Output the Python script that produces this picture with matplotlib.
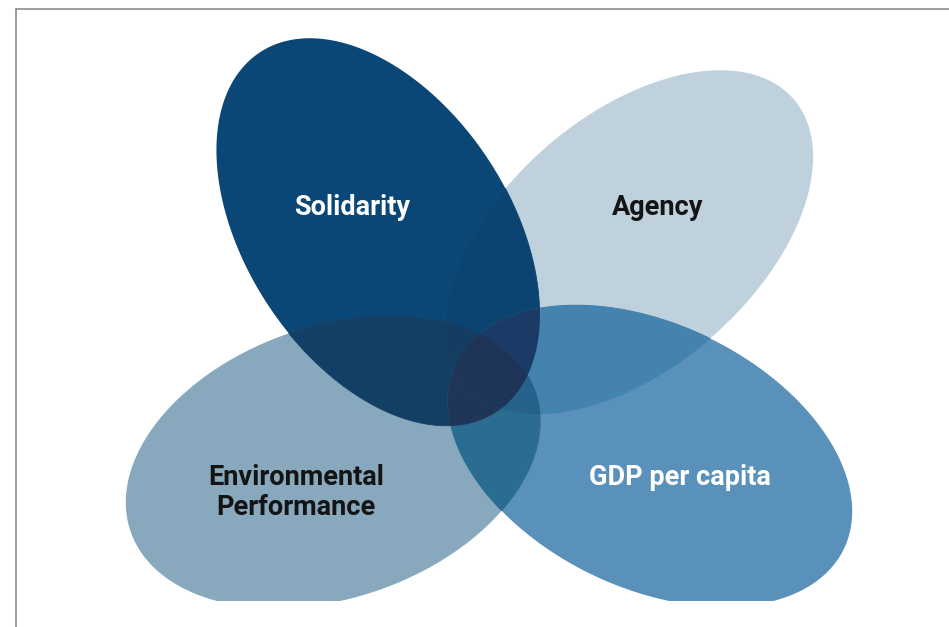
"""Four overlapping ellipses: Solidarity / Agency / Environmental Performance / GDP per capita."""

from itertools import combinations

import matplotlib.pyplot as plt
from matplotlib.colors import to_rgb, to_hex
from matplotlib.patches import Polygon
import numpy as np

# Ellipse geometry (pixel units, y grows downward)
names = ["Solidarity", "Agency", "Environmental\nPerformance", "GDP per capita"]
keys = ["S", "A", "E", "G"]
center_x = [378, 629, 333, 650]
center_y = [232, 242, 462, 456]
semi_major = [215, 218, 214, 215]
semi_minor = [132, 126, 136, 132]
angle_deg = [56.7, -41.0, -18.9, 25.5]

# Label layout
label_x = [352, 658, 296, 680]
label_baseline = [215, 215, 485, 485]
label_color = ["white", "#141414", "#141414", "white"]
LINE_STEP = 30

# Fill colour of every visible region (keys = ellipses covering it).
# A∩E lies almost entirely inside Solidarity, so it takes that overlap colour.
REGION_COLORS = {
    "S": "#0a4676", "A": "#bfd1dd", "E": "#87a8bd", "G": "#5991ba",
    "SA": "#0b4470", "SE": "#143f65", "SG": "#1b3e6b",
    "AG": "#4383ae", "EG": "#2b6d90", "AE": "#143d62",
    "SAG": "#1b3a65", "SEG": "#1f3659", "SAE": "#143d62", "AEG": "#26628a",
    "SAEG": "#1f3459",
}

W, H = 949, 627
CLIP_BOTTOM = 601


def ellipse_poly(cx, cy, a, b, ang, n=300):
    t = np.linspace(0, 2 * np.pi, n, endpoint=False)
    th = np.radians(ang)
    x = cx + a * np.cos(t) * np.cos(th) - b * np.sin(t) * np.sin(th)
    y = cy + a * np.cos(t) * np.sin(th) + b * np.sin(t) * np.cos(th)
    return list(zip(x, y))


def clip_poly(subject, clipper):
    """Sutherland-Hodgman, both polygons convex and counter-clockwise."""
    def inside(p, a, b):
        return (b[0] - a[0]) * (p[1] - a[1]) - (b[1] - a[1]) * (p[0] - a[0]) >= 0

    def cross_pt(s, e, a, b):
        dx1, dy1 = e[0] - s[0], e[1] - s[1]
        dx2, dy2 = b[0] - a[0], b[1] - a[1]
        den = dx1 * dy2 - dy1 * dx2
        u = ((a[0] - s[0]) * dy2 - (a[1] - s[1]) * dx2) / den
        return (s[0] + u * dx1, s[1] + u * dy1)

    out = subject
    for i in range(len(clipper)):
        a, b = clipper[i], clipper[(i + 1) % len(clipper)]
        inp, out = out, []
        if not inp:
            break
        s = inp[-1]
        for e in inp:
            if inside(e, a, b):
                if not inside(s, a, b):
                    out.append(cross_pt(s, e, a, b))
                out.append(e)
            elif inside(s, a, b):
                out.append(cross_pt(s, e, a, b))
            s = e
    return out


def region_color(combo):
    key = "".join(keys[i] for i in combo)
    if key in REGION_COLORS:
        return REGION_COLORS[key]
    rgb = np.ones(3)
    for i in combo:
        rgb *= np.array(to_rgb(REGION_COLORS[keys[i]]))
    return to_hex(rgb)


fig = plt.figure(figsize=(W / 100, H / 100), dpi=100)
ax = fig.add_axes([0, 0, 1, 1])
ax.set_xlim(0, W)
ax.set_ylim(H, 0)
ax.axis("off")

frame = [(0, -50), (W, -50), (W, CLIP_BOTTOM), (0, CLIP_BOTTOM)]
polys = [
    clip_poly(ellipse_poly(center_x[i], center_y[i], semi_major[i], semi_minor[i], angle_deg[i]), frame)
    for i in range(len(names))
]

# paint single ellipses first, then ever smaller intersections on top
for k in range(1, len(names) + 1):
    for combo in combinations(range(len(names)), k):
        poly = polys[combo[0]]
        for j in combo[1:]:
            poly = clip_poly(poly, polys[j])
            if len(poly) < 3:
                break
        if len(poly) < 3:
            continue
        col = region_color(combo)
        # a hairline edge in the fill colour hides antialiasing seams
        ax.add_patch(Polygon(poly, closed=True, facecolor=col, edgecolor=col,
                             linewidth=0.6 if k > 1 else 0.0, zorder=k))

for i, name in enumerate(names):
    for n, line in enumerate(name.split("\n")):
        ax.text(label_x[i], label_baseline[i] + n * LINE_STEP, line,
                ha="center", va="baseline", fontsize=19.5, fontweight="bold",
                family=["Roboto", "DejaVu Sans"], color=label_color[i], zorder=10)

# frame of the original page (only top and left edges are in view)
ax.plot([16, 16], [9, H], color="#8c8c8c", linewidth=1.2, zorder=11)
ax.plot([16, W], [9, 9], color="#8c8c8c", linewidth=1.2, zorder=11)

fig.savefig("out.png", dpi=100)
